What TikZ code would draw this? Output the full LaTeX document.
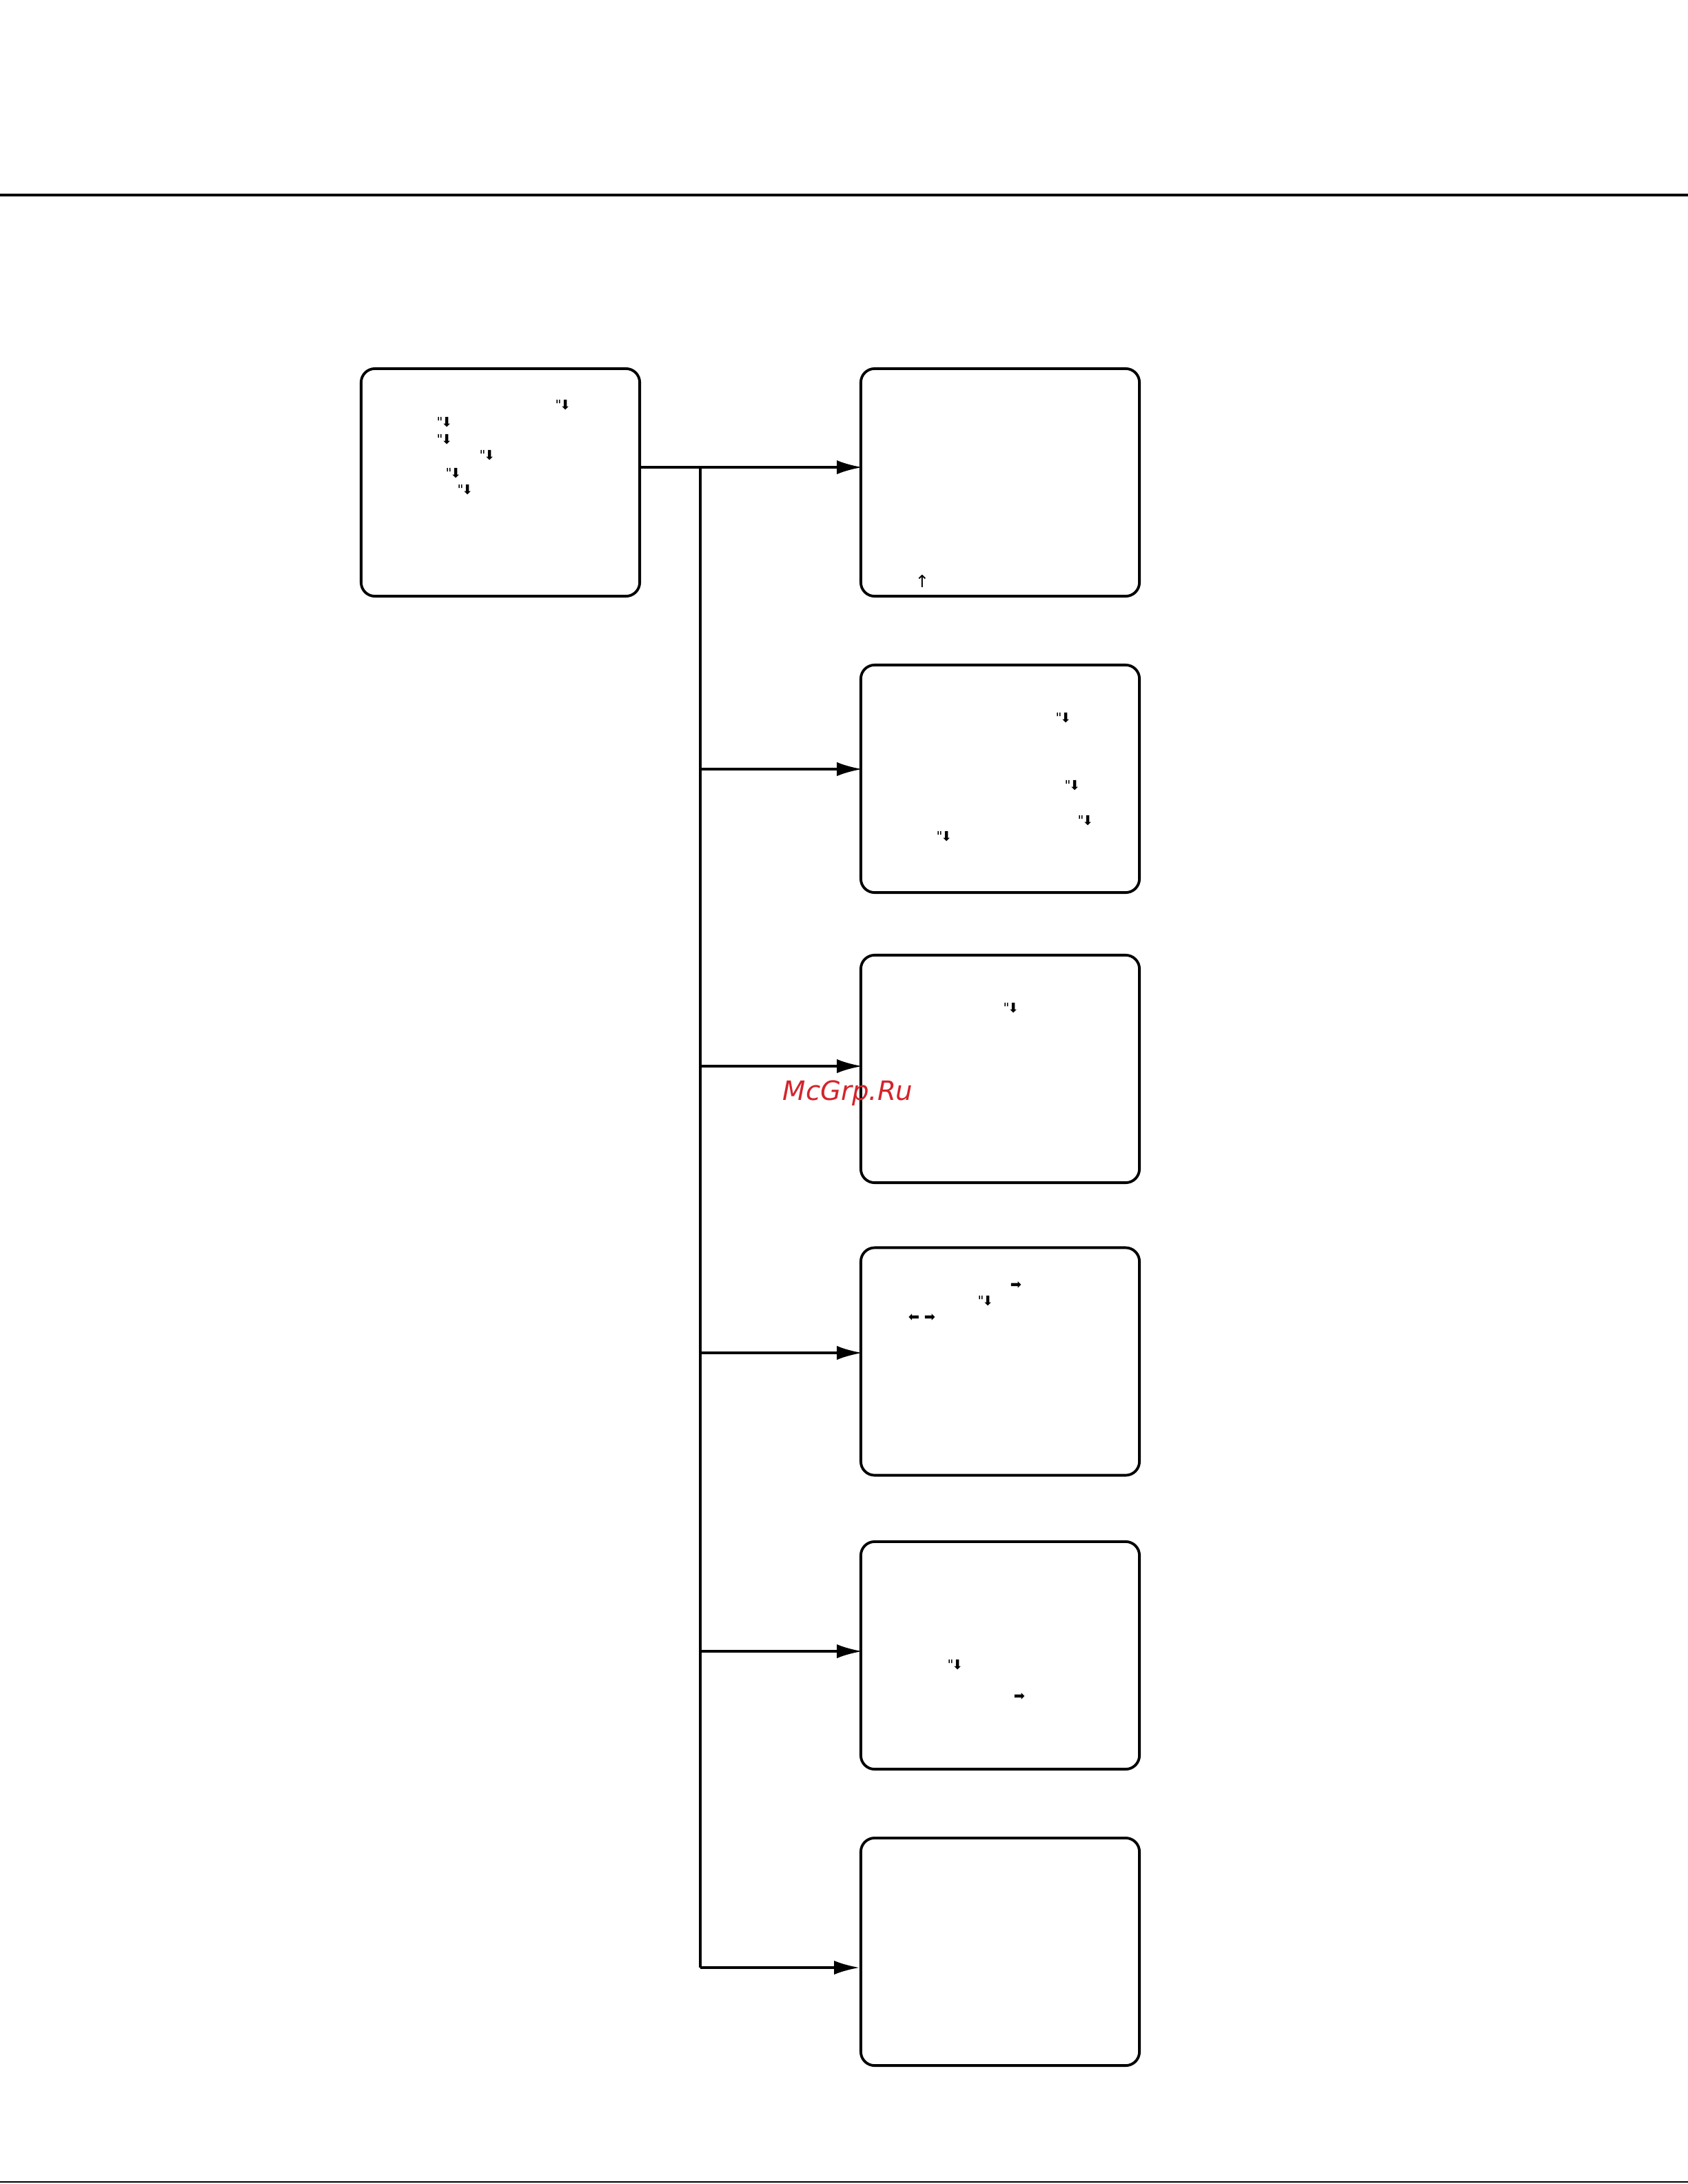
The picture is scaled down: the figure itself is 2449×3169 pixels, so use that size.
\documentclass[tikz,border=0pt]{standalone}
\usepackage{fontspec}
\newfontfamily\dv{DejaVu Sans}
\usetikzlibrary{arrows.meta}
\definecolor{wmred}{RGB}{212,36,44}
\tikzset{
  box/.style={draw, line width=1.1pt, rounded corners=0.2cm, minimum width=4.04cm, minimum height=3.30cm, inner sep=0pt},
  conn/.style={line width=1.1pt},
  arr/.style={line width=1.1pt, -{Latex[length=10.5pt,width=5.8pt]}, shorten >=-0.04cm},
  glyph/.style={font=\dv\fontsize{5.5pt}{6pt}\selectfont, inner sep=0pt},
  rule/.style={line width=0.9pt}
}
\newcommand{\dq}{"\kern-0.12em⬇}
\begin{document}
\begin{tikzpicture}[x=0.01cm, y=-0.01cm]
\useasboundingbox[fill=white] (0,0) rectangle (2449,3169);
\coordinate (tl) at (0,283);
\coordinate (tr) at (2449,283);
\draw[rule] (tl) -- (tr);
\coordinate (bl) at (0,3166);
\coordinate (br) at (2449,3166);
\draw[line width=0.6pt] (bl) -- (br);

\node[box] (b1) at (726,700) {};
\node[box] (bA) at (1451,700) {};
\node[box] (bB) at (1451,1130) {};
\node[box] (bC) at (1451,1551) {};
\node[box] (bD) at (1451,1975.5) {};
\node[box] (bE) at (1451,2402) {};
\node[box] (bF) at (1451,2832) {};

\coordinate (j1) at (1016,678);
\coordinate (j2) at (1016,1116);
\coordinate (j3) at (1016,1547);
\coordinate (j4) at (1016,1963);
\coordinate (j5) at (1016,2396);
\coordinate (j6) at (1016,2855);

\draw[conn] (b1.east |- j1) -- (j1);
\draw[arr] (j1) -- (bA.west |- j1);
\draw[conn] (j1) -- (j6);
\draw[arr] (j2) -- (bB.west |- j2);
\draw[arr] (j3) -- (bC.west |- j3);
\draw[arr] (j4) -- (bD.west |- j4);
\draw[arr] (j5) -- (bE.west |- j5);
\draw[arr, shorten >=0pt] (j6) -- (bF.west |- j6);

% glyphs box 1
\node[glyph] (g11) at (817,588) {\dq};
\node[glyph] (g12) at (645,613) {\dq};
\node[glyph] (g13) at (645,638) {\dq};
\node[glyph] (g14) at (707,661) {\dq};
\node[glyph] (g15) at (658,687) {\dq};
\node[glyph] (g16) at (675,711) {\dq};
% box A
\node[glyph, font=\dv\fontsize{7pt}{8pt}\selectfont] (gA1) at (1338,843) {↑};
% box B
\node[glyph] (gB1) at (1543,1042) {\dq};
\node[glyph] (gB2) at (1556,1140) {\dq};
\node[glyph] (gB3) at (1575,1191) {\dq};
\node[glyph] (gB4) at (1370,1214) {\dq};
% box C
\node[glyph] (gC1) at (1467,1463) {\dq};
% box D
\node[glyph] (gD1) at (1474,1865) {➡};
\node[glyph] (gD2) at (1430,1888) {\dq};
\node[glyph] (gD3) at (1326,1912) {⬅};
\node[glyph] (gD4) at (1349,1912) {➡};
% box E
\node[glyph] (gE1) at (1386,2416) {\dq};
\node[glyph] (gE2) at (1479,2462) {➡};

\node[font=\dv\itshape\fontsize{11pt}{13pt}\selectfont, text=wmred, inner sep=0pt] (wm) at (1230,1586) {McGrp.Ru};
\end{tikzpicture}
\end{document}
